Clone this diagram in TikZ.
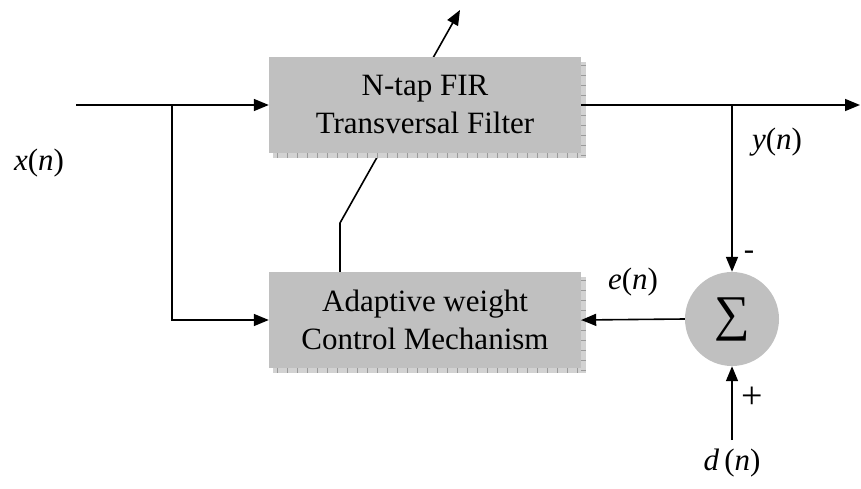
\documentclass[tikz,border=0pt]{standalone}
\usepackage{fontspec}
\setmainfont{Liberation Serif}
\usetikzlibrary{arrows.meta,backgrounds,calc}
\definecolor{boxgray}{HTML}{C0C0C0}
\definecolor{shadegray}{HTML}{D2D2D2}
\definecolor{tickgray}{HTML}{9A9A9A}
\tikzset{
  blockbox/.style={rectangle, fill=boxgray, minimum width=312, minimum height=96,
    inner sep=0pt, align=center, font=\fontsize{31}{38}\selectfont},
  sumnode/.style={circle, fill=boxgray, minimum size=94, inner sep=0pt,
    font=\fontsize{50}{50}\selectfont},
  sig/.style={line width=1.6pt, -{Triangle[length=15pt,width=12pt]}},
  lbl/.style={inner sep=0pt, font=\fontsize{31}{36}\selectfont},
}
% drop shadow with tick marks behind a block
\newcommand\hatchshadow[1]{%
  \fill[shadegray] ([shift={(4,5)}]#1.north west) rectangle ([shift={(5,5)}]#1.south east);
  \draw[tickgray, line width=5pt, dash pattern=on 0.8pt off 9.2pt]
    ([shift={(2.5,8)}]#1.north east) -- ([shift={(2.5,2.5)}]#1.south east);
  \draw[tickgray, line width=5pt, dash pattern=on 0.8pt off 9.2pt]
    ([shift={(8,2.5)}]#1.south west) -- ([shift={(2.5,2.5)}]#1.south east);
}
\begin{document}
\begin{tikzpicture}[x=1pt, y=-1pt]
\useasboundingbox (0,0) rectangle (861,489);

% blocks
\node[blockbox] (fir) at (425,105) {N-tap FIR\\Transversal Filter};
\node[blockbox] (acm) at (425,320) {Adaptive weight\\Control Mechanism};
\node[sumnode] (sum) at (732,319) {\symbol{"2211}};

% free ends and junctions
\coordinate (xin) at (76,105);
\coordinate (j1) at (172,105);
\coordinate (yout) at (860,105);
\coordinate (j2) at (732,105);
\coordinate (din) at (732,440);
\coordinate (kink) at (340,223);
\coordinate (tune) at (460,10);

\begin{scope}[on background layer]
  % weight update path, passing behind the filter block
  \draw[sig] (kink |- acm.north) -- (kink) -- (tune);
  \hatchshadow{fir}
  \hatchshadow{acm}
\end{scope}

% signal paths
\draw[sig] (xin) -- (fir.west);
\draw[sig] (j1) |- (acm.west);
\draw[sig] (fir.east) -- (yout);
\draw[sig] (j2) -- (sum.north);
\draw[sig] (sum.west) -- (acm.east);
\draw[sig] (din) -- (sum.south);

% labels
\node[lbl] (lx) at (39,163) {\textit{x}(\textit{n})};
\node[lbl] (ly) at (777,142) {\textit{y}(\textit{n})};
\node[lbl] (le) at (633,282) {\textit{e}(\textit{n})};
\node[lbl] (ld) at (732,463) {\textit{d}\,(\textit{n})};
\node[lbl] (lminus) at (749,255) {-};
\node[lbl, font=\fontsize{38}{40}\selectfont] (lplus) at (752,398) {+};
\end{tikzpicture}
\end{document}
